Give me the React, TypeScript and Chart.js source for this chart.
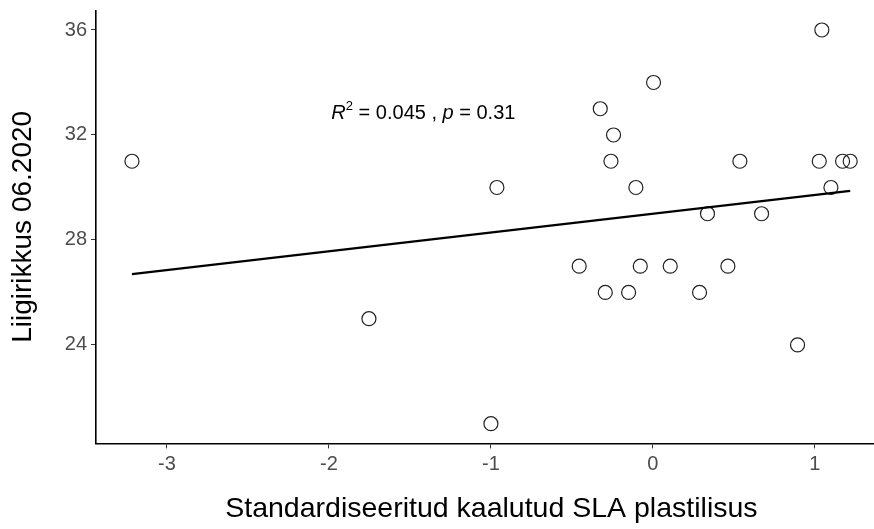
import React, { useEffect, useRef } from "react";
import { Chart, registerables } from "chart.js";

Chart.register(...registerables);

// ---- data ----
const xValues = [
  -3.216, -1.753, -1.0, -0.963, -0.455, 1.043, 0.004, -0.325, -0.243, -0.259,
  0.537, 1.027, 1.171, 1.218, -0.105, 1.099, 0.337, 0.671, -0.078, 0.107,
  0.463, -0.294, -0.15, 0.288, 0.893,
];
const yValues = [
  31, 25, 21, 30, 27, 36, 34, 33, 32, 31,
  31, 31, 31, 31, 30, 30, 29, 29, 27, 27,
  27, 26, 26, 26, 24,
];
const xTicks = [-3, -2, -1, 0, 1];
const yTicks = [24, 28, 32, 36];
const xRange = [-3.438, 1.444];
const yRange = [20.25, 36.75];
const xTitle = "Standardiseeritud kaalutud SLA plastilisus";
const yTitle = "Liigirikkus 06.2020";
const r2Label = "0.045";
const pLabel = "0.31";
const annotPos = [-1.985, 32.6];

const FONT = "'Liberation Sans', Arial, Helvetica, sans-serif";

function fitLine(xs: number[], ys: number[]) {
  const n = xs.length;
  const mx = xs.reduce((a, b) => a + b, 0) / n;
  const my = ys.reduce((a, b) => a + b, 0) / n;
  let sxy = 0;
  let sxx = 0;
  for (let i = 0; i < n; i++) {
    sxy += (xs[i] - mx) * (ys[i] - my);
    sxx += (xs[i] - mx) * (xs[i] - mx);
  }
  const slope = sxy / sxx;
  const intercept = my - slope * mx;
  return { slope, intercept };
}

const annotPlugin = {
  id: "annot",
  afterDatasetsDraw(chart: any) {
    const { ctx, scales } = chart;
    let x = scales.x.getPixelForValue(annotPos[0]);
    const y = scales.y.getPixelForValue(annotPos[1]);
    ctx.save();
    ctx.fillStyle = "#000000";
    ctx.textBaseline = "alphabetic";
    ctx.textAlign = "left";
    const seg = (text: string, font: string, dy = 0) => {
      ctx.font = font;
      ctx.fillText(text, x, y + dy);
      x += ctx.measureText(text).width;
    };
    seg("R", `italic 20px ${FONT}`);
    seg("2", `13px ${FONT}`, -9);
    seg(` = ${r2Label} , `, `20px ${FONT}`);
    seg("p", `italic 20px ${FONT}`);
    seg(` = ${pLabel}`, `20px ${FONT}`);
    ctx.restore();
  },
};

const zeroPadding = (scale: any) => {
  scale.paddingTop = 0;
  scale.paddingBottom = 0;
  scale.paddingLeft = 0;
  scale.paddingRight = 0;
};

export default function App() {
  const canvasRef = useRef<HTMLCanvasElement | null>(null);

  useEffect(() => {
    const canvas = canvasRef.current;
    if (!canvas) return;
    const { slope, intercept } = fitLine(xValues, yValues);
    const xmin = Math.min(...xValues);
    const xmax = Math.max(...xValues);
    const points = xValues.map((x, i) => ({ x, y: yValues[i] }));
    const linePts = [
      { x: xmin, y: intercept + slope * xmin },
      { x: xmax, y: intercept + slope * xmax },
    ];

    const chart = new Chart(canvas, {
      type: "scatter",
      data: {
        datasets: [
          {
            label: "fit",
            data: linePts,
            showLine: true,
            borderColor: "#000000",
            borderWidth: 2.2,
            pointRadius: 0,
            order: 0,
          } as any,
          {
            label: "points",
            data: points,
            pointStyle: "circle",
            pointRadius: 7,
            pointBorderWidth: 1.2,
            pointBorderColor: "#222222",
            pointBackgroundColor: "rgba(0,0,0,0)",
            borderColor: "#222222",
            backgroundColor: "rgba(0,0,0,0)",
            order: 1,
          } as any,
        ],
      },
      options: {
        animation: false,
        responsive: false,
        maintainAspectRatio: false,
        events: [],
        layout: { padding: { top: 10.3, left: 0, right: 4, bottom: 0 } },
        plugins: {
          legend: { display: false },
          tooltip: { enabled: false },
        },
        scales: {
          x: {
            type: "linear",
            min: xRange[0],
            max: xRange[1],
            afterBuildTicks: (scale: any) => {
              scale.ticks = xTicks.map((v) => ({ value: v }));
            },
            afterFit: (scale: any) => {
              scale.height = 85.6;
              zeroPadding(scale);
            },
            grid: {
              display: true,
              drawOnChartArea: false,
              drawTicks: true,
              tickLength: 5,
              tickWidth: 1,
              tickColor: "#333333",
            },
            border: { display: true, color: "#000000", width: 1.6 },
            ticks: {
              color: "#4D4D4D",
              font: { family: FONT, size: 20 },
              padding: 4,
              maxRotation: 0,
              autoSkip: false,
            },
            title: {
              display: true,
              text: xTitle,
              color: "#000000",
              font: { family: FONT, size: 28.5 },
              padding: { top: 0, bottom: 3 },
            },
          },
          y: {
            type: "linear",
            min: yRange[0],
            max: yRange[1],
            afterBuildTicks: (scale: any) => {
              scale.ticks = yTicks.map((v) => ({ value: v }));
            },
            afterFit: (scale: any) => {
              scale.width = 96;
              zeroPadding(scale);
            },
            grid: {
              display: true,
              drawOnChartArea: false,
              drawTicks: true,
              tickLength: 5,
              tickWidth: 1,
              tickColor: "#333333",
            },
            border: { display: true, color: "#000000", width: 1.6 },
            ticks: {
              color: "#4D4D4D",
              font: { family: FONT, size: 20 },
              padding: 4,
              autoSkip: false,
            },
            title: {
              display: true,
              text: yTitle,
              color: "#000000",
              font: { family: FONT, size: 28 },
              padding: { top: 6, bottom: 0 },
            },
          },
        },
      },
      plugins: [annotPlugin],
    });
    return () => chart.destroy();
  }, []);

  return (
    <div
      style={{
        position: "fixed",
        left: 0,
        top: 0,
        width: 874,
        height: 529,
        overflow: "hidden",
        background: "#ffffff",
      }}
    >
      <canvas
        ref={canvasRef}
        width={895}
        height={529}
        style={{ display: "block", width: 895, height: 529 }}
      />
    </div>
  );
}
